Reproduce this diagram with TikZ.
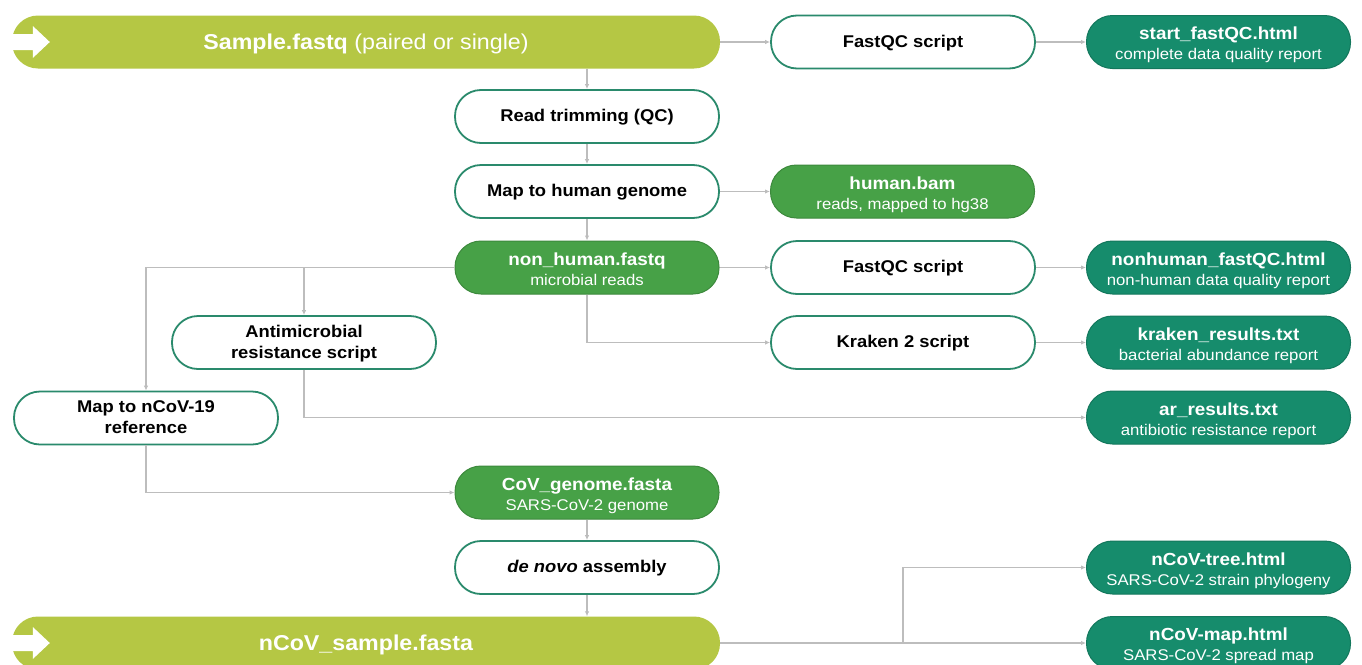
\documentclass[tikz,border=0pt]{standalone}
\usepackage{fontspec}
\setmainfont{Liberation Sans}[FakeStretch=1.08]
\usetikzlibrary{arrows.meta,calc}
\definecolor{limec}{HTML}{B5C744}
\definecolor{gmid}{HTML}{47A147}
\definecolor{tealc}{HTML}{168C6C}
\definecolor{edgec}{HTML}{2A8A6C}
\definecolor{connc}{HTML}{BDBDBD}
\newcommand{\procstrut}{\rule[-5.8pt]{0pt}{21.8pt}}
\newcommand{\procend}{\rule[-5.8pt]{0pt}{0pt}}
\newcommand{\ttl}[1]{\rule{0pt}{19.5pt}\textbf{#1}}
\newcommand{\subt}[1]{{\fontsize{15.5}{18}\selectfont #1}\rule[-4pt]{0pt}{0pt}}
\newcommand{\barstrut}{\rule[-5.6pt]{0pt}{25.6pt}}
\begin{document}
\begin{tikzpicture}[x=1pt,y=-1pt,
 box/.style={rectangle,rounded corners=26pt,minimum width=264pt,minimum height=53pt,inner sep=0pt,align=center},
 proc/.style={box,draw=edgec,line width=1.8pt,fill=white,font=\fontsize{17}{21}\selectfont\bfseries},
 outbox/.style={box,line width=1pt,text=white,font=\fontsize{17.5}{20}\selectfont},
 dat/.style={outbox,fill=gmid,draw=gmid!85!black},
 res/.style={outbox,fill=tealc,draw=tealc!85!black},
 bar/.style={rectangle,rounded corners=26pt,minimum width=708pt,minimum height=53pt,inner sep=0pt,fill=limec,text=white,font=\fontsize{21.5}{24}\selectfont},
 link/.style={draw=connc,line width=1.2pt,-{Latex[length=5pt,width=4.5pt]}}]
\useasboundingbox (0,0) rectangle (1362,664);
\fill[white] (0,0) rectangle (1362,664);
% bars
\node[bar] (sbar) at (366,42) {\barstrut\textbf{Sample.fastq} (paired or single)};
\node[bar] (nbar) at (366,643) {\barstrut\textbf{nCoV\_sample.fasta}};
\foreach \b in {sbar,nbar}{
  \fill[white,shift={(\b.west)}] (-2,-8) -- (21,-8) -- (21,-16) -- (38,0) -- (21,16) -- (21,8) -- (-2,8) -- cycle;
}
% process nodes
\node[proc] (fq1) at (903,42) {\procstrut FastQC script};
\node[proc] (trim) at (587,116.5) {\procstrut Read trimming (QC)};
\node[proc] (maph) at (587,191.5) {\procstrut Map to human genome};
\node[proc] (fq2) at (903,267.5) {\procstrut FastQC script};
\node[proc] (amr) at (304,342.5) {\procstrut Antimicrobial\\resistance script\procend};
\node[proc] (krak) at (903,342.5) {\procstrut Kraken 2 script};
\node[proc] (mapcov) at (146,418) {\procstrut Map to nCoV-19\\reference\procend};
\node[proc] (denovo) at (587,567.5) {\procstrut{\itshape de novo} assembly};
% data nodes
\node[dat] (hbam) at (902.5,191.5) {\ttl{human.bam}\\\subt{reads, mapped to hg38}};
\node[dat] (nonh) at (587,267.5) {\ttl{non\_human.fastq}\\\subt{microbial reads}};
\node[dat] (covg) at (587,492.5) {\ttl{CoV\_genome.fasta}\\\subt{SARS-CoV-2 genome}};
% result nodes
\node[res] (sfq) at (1218.5,42) {\ttl{start\_fastQC.html}\\\subt{complete data quality report}};
\node[res] (nhfq) at (1218.5,267.5) {\ttl{nonhuman\_fastQC.html}\\\subt{non-human data quality report}};
\node[res] (krr) at (1218.5,342.5) {\ttl{kraken\_results.txt}\\\subt{bacterial abundance report}};
\node[res] (arr) at (1218.5,417.5) {\ttl{ar\_results.txt}\\\subt{antibiotic resistance report}};
\node[res] (tree) at (1218.5,567.5) {\ttl{nCoV-tree.html}\\\subt{SARS-CoV-2 strain phylogeny}};
\node[res] (nmap) at (1218.5,643) {\ttl{nCoV-map.html}\\\subt{SARS-CoV-2 spread map}};
\coordinate (split) at (903,643);
% connectors
\draw[link] (sbar.east) -- (fq1.west);
\draw[link] (fq1) -- (sfq);
\draw[link] (sbar.south -| trim.north) -- (trim.north);
\draw[link] (trim) -- (maph);
\draw[link] (maph) -- (hbam);
\draw[link] (maph) -- (nonh);
\draw[link] (nonh) -- (fq2);
\draw[link] (fq2) -- (nhfq);
\draw[link] (nonh.south) |- (krak.west);
\draw[link] (krak) -- (krr);
\draw[link] (nonh.west) -| (amr.north);
\draw[link] (nonh.west) -| (mapcov.north);
\draw[link] (amr.south) |- (arr.west);
\draw[link] (mapcov.south) |- (covg.west);
\draw[link] (covg) -- (denovo);
\draw[link] (denovo) -- (nbar.north -| denovo.south);
\draw[link] (nbar.east) -- (nmap.west);
\draw[link] (split) |- (tree.west);
\end{tikzpicture}
\end{document}
